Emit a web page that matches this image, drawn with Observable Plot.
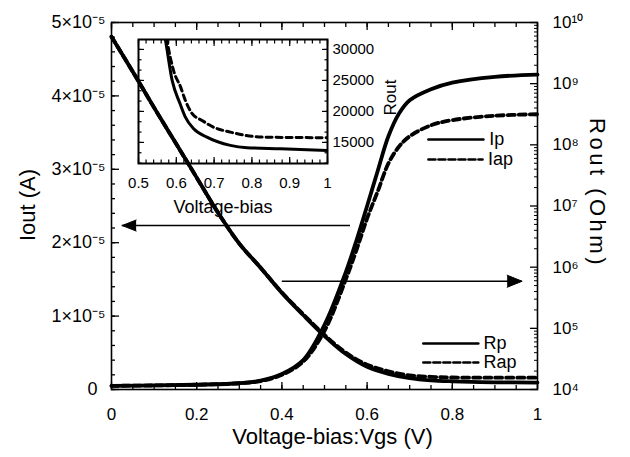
<!DOCTYPE html>
<html><head><meta charset="utf-8">
<script src="https://cdn.jsdelivr.net/npm/d3@7"></script>
<script src="https://cdn.jsdelivr.net/npm/@observablehq/plot@0.6"></script>
<style>
body{margin:0;background:#fff;}
#wrap{position:relative;width:630px;height:457px;overflow:hidden;}
#wrap svg{position:absolute;}
</style></head><body><div id="wrap"></div>
<script>
// ---------- data ----------
// Output current vs gate voltage (left, linear axis)
const vgsI   = [0, 0.1, 0.2, 0.3, 0.35, 0.4, 0.45, 0.5, 0.55, 0.575, 0.6, 0.625, 0.65, 0.675, 0.7, 0.75, 0.8, 0.9, 1.0];
const ioutP  = [0.5e-6, 0.55e-6, 0.65e-6, 0.85e-6, 1.2e-6, 2.1e-6, 4.0e-6, 8.8e-6, 1.6e-5, 2.03e-5, 2.5e-5, 2.98e-5, 3.45e-5, 3.76e-5, 3.94e-5, 4.09e-5, 4.18e-5, 4.26e-5, 4.29e-5];
const ioutAP = [0.5e-6, 0.55e-6, 0.65e-6, 0.85e-6, 1.15e-6, 2.0e-6, 3.8e-6, 8.0e-6, 1.5e-5, 1.9e-5, 2.33e-5, 2.7e-5, 3.08e-5, 3.31e-5, 3.45e-5, 3.6e-5, 3.67e-5, 3.73e-5, 3.75e-5];
// Output resistance vs gate voltage (right, log axis)
const vgsR   = [0, 0.05, 0.1, 0.15, 0.2, 0.25, 0.3, 0.35, 0.4, 0.45, 0.5, 0.55, 0.6, 0.65, 0.7, 0.75, 0.8, 0.9, 1.0];
const routP  = [5.86e9, 1.57e9, 4.06e8, 1.09e8, 2.91e7, 7.8e6, 2.43e6, 9.8e5, 3.8e5, 1.65e5, 7.5e4, 3.8e4, 2.35e4, 1.8e4, 1.53e4, 1.41e4, 1.36e4, 1.31e4, 1.3e4];
const routAP = [5.86e9, 1.57e9, 4.06e8, 1.09e8, 2.91e7, 7.8e6, 2.43e6, 9.8e5, 3.85e5, 1.7e5, 7.8e4, 4.0e4, 2.55e4, 1.98e4, 1.7e4, 1.61e4, 1.57e4, 1.56e4, 1.56e4];
// Inset: Rout (linear) vs Voltage-bias
const insetVP  = [0.565, 0.571, 0.589, 0.61, 0.624, 0.646, 0.681, 0.743, 0.787, 0.876, 1.0];
const insetRp  = [33500, 31600, 25000, 21240, 19080, 17200, 15850, 14520, 14150, 13980, 13700];
const insetVAP = [0.57, 0.575, 0.594, 0.611, 0.624, 0.642, 0.668, 0.698, 0.743, 0.83, 1.0];
const insetRap = [33500, 31600, 26340, 24000, 21770, 19630, 18550, 17470, 16660, 15850, 15760];

// tick values / labels
const xMajor = [0, 0.2, 0.4, 0.6, 0.8, 1];
const xMinor = d3.range(0, 1.0001, 0.05);
const iMajor = [0, 1e-5, 2e-5, 3e-5, 4e-5, 5e-5];
const iMinor = d3.range(0, 5.0001e-5, 0.2e-5);
const rDecades = [4, 5, 6, 7, 8, 9, 10];
const insetXTicks = [0.5, 0.6, 0.7, 0.8, 0.9, 1];
const insetYTicks = [15000, 20000, 25000, 30000];

// annotations
const legendNames = ["Ip", "Iap", "Rp", "Rap"];
const legendY = [3.406e-5, 3.134e-5, 0.627e-5, 0.368e-5];
const legendX0 = [0.744, 0.744, 0.732, 0.732];
const legendX1 = [0.873, 0.871, 0.861, 0.861];
const legendTextX = [0.887, 0.884, 0.873, 0.873];
const legendDash = [false, true, false, true];
const arrowLeft = {x1: 0.561, x2: 0.025, y: 2.234e-5};
const arrowRight = {x1: 0.401, x2: 0.964, y: 1.475e-5};

// ---------- helpers ----------
const supMap = {"0":"⁰","1":"¹","2":"²","3":"³","4":"⁴","5":"⁵","6":"⁶","7":"⁷","8":"⁸","9":"⁹","-":"⁻"};
const sup = s => [...String(s)].map(c => supMap[c]).join("");
const toY = r => (Math.log10(r) - 4) / 6 * 5e-5;       // log Rout -> left-axis units
const decY = n => (n - 4) / 6 * 5e-5;
const rMinor = [];
for (let n = 4; n < 10; n++) for (let m = 2; m <= 9; m++) rMinor.push(decY(n + Math.log10(m)));
const pts = (xs, ys, f = d => d) => xs.map((x, i) => ({x, y: f(ys[i])}));

const FONT = "Liberation Sans, Arial, Helvetica, sans-serif";
const DASH = "7,4";
const CURVE = "catmull-rom";

// inward ticks: tick drawn outward from a point moved inside the frame by the tick length
function inTicksX(values, anchor, size, sw = 1.3) {
  const o = {anchor, tickSize: size, tickFormat: () => "", label: null, strokeWidth: sw};
  if (anchor === "bottom") o.insetBottom = size; else o.insetTop = size;
  return Plot.axisX(values, o);
}
function inTicksY(values, anchor, size, sw = 1.3) {
  const o = {anchor, tickSize: size, tickFormat: () => "", label: null, strokeWidth: sw};
  if (anchor === "left") o.insetLeft = size; else o.insetRight = size;
  return Plot.axisY(values, o);
}

const legendSegs = [];
legendNames.forEach((n, i) => {
  legendSegs.push({name: n, x: legendX0[i], y: legendY[i]});
  legendSegs.push({name: n, x: legendX1[i], y: legendY[i]});
});

const main = Plot.plot({
  width: 630, height: 457,
  marginLeft: 111, marginRight: 93, marginTop: 22, marginBottom: 68,
  x: {domain: [0, 1]},
  y: {domain: [0, 5e-5]},
  style: {fontFamily: FONT, fontSize: "18px", color: "black", background: "transparent"},
  marks: [
    // curves
    Plot.line(pts(vgsI, ioutP), {x: "x", y: "y", stroke: "black", strokeWidth: 3.8, curve: CURVE}),
    Plot.line(pts(vgsI, ioutAP), {x: "x", y: "y", stroke: "black", strokeWidth: 3.8, strokeDasharray: DASH, curve: CURVE}),
    Plot.line(pts(vgsR, routAP, toY), {x: "x", y: "y", stroke: "black", strokeWidth: 3.8, strokeDasharray: DASH, curve: CURVE}),
    Plot.line(pts(vgsR, routP, toY), {x: "x", y: "y", stroke: "black", strokeWidth: 3.8, curve: CURVE}),
    // legend
    ...legendNames.map((n, i) => Plot.line(legendSegs.filter(d => d.name === n), {x: "x", y: "y", stroke: "black", strokeWidth: 2.6, strokeDasharray: legendDash[i] ? "7,3" : null})),
    Plot.text(legendNames.map((n, i) => ({n, x: legendTextX[i], y: legendY[i]})), {x: "x", y: "y", text: "n", textAnchor: "start", lineAnchor: "middle", fontSize: 18, fill: "black"}),
    // arrows
    Plot.ruleY([arrowLeft], {x1: "x1", x2: "x2", y: "y", stroke: "black", strokeWidth: 1.6}),
    Plot.ruleY([arrowRight], {x1: "x1", x2: "x2", y: "y", stroke: "black", strokeWidth: 1.6}),
    Plot.vector([arrowLeft], {x: "x2", y: "y", rotate: -90, length: 14, r: 5.5, shape: "spike", anchor: "end", fill: "black", fillOpacity: 1, stroke: "black", strokeWidth: 1}),
    Plot.vector([arrowRight], {x: "x2", y: "y", rotate: 90, length: 15, r: 6, shape: "spike", anchor: "end", fill: "black", fillOpacity: 1, stroke: "black", strokeWidth: 1}),
    // frame
    Plot.frame({stroke: "black", strokeWidth: 1.6}),
    // left axis
    Plot.axisY(iMajor.filter(d => d > 0), {anchor: "left", tickSize: 0, tickPadding: 6, fontSize: 18, label: null,
      tickFormat: d => `${Math.round(d / 1e-5)}×10${sup(-5)}`}),
    Plot.axisY([0], {anchor: "left", tickSize: 0, tickPadding: 14, fontSize: 18, label: null, tickFormat: () => "0"}),
    inTicksY(iMajor, "left", 8),
    inTicksY(iMinor, "left", 4),
    // right axis (log Rout)
    Plot.axisY(rDecades.map(decY), {anchor: "right", tickSize: 0, tickPadding: 15, fontSize: 17, label: null,
      tickFormat: d => "10" + sup(Math.round(d / 5e-5 * 6 + 4))}),
    inTicksY(rDecades.map(decY), "right", 8),
    inTicksY(rMinor, "right", 4, 1),
    // bottom / top axes
    Plot.axisX(xMajor, {anchor: "bottom", tickSize: 0, tickPadding: 18, fontSize: 17, label: null, tickFormat: d => String(d)}),
    inTicksX(xMajor, "bottom", 7),
    inTicksX(xMinor, "bottom", 4),
    inTicksX(xMajor, "top", 7),
    inTicksX(xMinor, "top", 4),
    // axis titles
    Plot.text(["Voltage-bias:Vgs (V)"], {text: d => d, frameAnchor: "bottom", textAnchor: "middle", lineAnchor: "middle", dy: 47, dx: 8, fontSize: 22, fill: "black"}),
    Plot.text(["Iout (A)"], {text: d => d, frameAnchor: "left", textAnchor: "middle", lineAnchor: "middle", dx: -84, dy: -1, rotate: -90, fontSize: 22, fill: "black"}),
    Plot.text(["Rout (Ohm)"], {text: d => d, frameAnchor: "right", textAnchor: "middle", lineAnchor: "middle", dx: 60, dy: -13, rotate: 90, fontSize: 22, fill: "black"})
  ]
});
main.style.left = "0px"; main.style.top = "0px";
main.querySelectorAll("text").forEach(t => { if (t.textContent === "Rout (Ohm)") t.style.letterSpacing = "3.5px"; });
document.getElementById("wrap").appendChild(main);

// ---------- inset ----------
const insetXMinor = d3.range(0.5, 1.0001, 0.02);
const insetYMinor = d3.range(15000 - 2 * 5000 / 3, 31600, 5000 / 3);
const inset = Plot.plot({
  width: 320, height: 200,
  marginLeft: 38, marginTop: 19, marginRight: 93, marginBottom: 57,
  x: {domain: [0.5, 1]},
  y: {domain: [11600, 31600]},
  style: {fontFamily: FONT, fontSize: "15px", color: "black", background: "transparent"},
  marks: [
    Plot.line(pts(insetVAP, insetRap), {x: "x", y: "y", stroke: "black", strokeWidth: 3, strokeDasharray: "6,4", curve: "monotone-x", clip: true}),
    Plot.line(pts(insetVP, insetRp), {x: "x", y: "y", stroke: "black", strokeWidth: 3, curve: "monotone-x", clip: true}),
    Plot.frame({stroke: "black", strokeWidth: 2}),
    Plot.axisX(insetXTicks, {anchor: "bottom", tickSize: 0, tickPadding: 14, fontSize: 15, label: null, tickFormat: d => d === 1 ? "1" : d.toFixed(1)}),
    inTicksX(insetXTicks, "bottom", 6, 1.2),
    inTicksX(insetXMinor, "bottom", 3.5, 1.2),
    inTicksX(insetXTicks, "top", 6, 1.2),
    inTicksX(insetXMinor, "top", 3.5, 1.2),
    Plot.axisY(insetYTicks, {anchor: "right", tickSize: 0, tickPadding: 5, fontSize: 15, label: null, tickFormat: d => String(d)}),
    inTicksY(insetYTicks, "right", 6, 1.2),
    inTicksY(insetYMinor, "right", 3.5, 1.2),
    inTicksY(insetYTicks, "left", 6, 1.2),
    inTicksY(insetYMinor, "left", 3.5, 1.2),
    Plot.text(["Voltage-bias"], {text: d => d, frameAnchor: "bottom", textAnchor: "middle", lineAnchor: "middle", dy: 44, dx: -10, fontSize: 18, fill: "black"}),
    Plot.text(["Rout"], {text: d => d, frameAnchor: "right", textAnchor: "middle", lineAnchor: "middle", dx: 63, dy: -4, rotate: -90, fontSize: 17, fill: "black"})
  ]
});
inset.style.left = "100px"; inset.style.top = "20px";
document.getElementById("wrap").appendChild(inset);
</script>
</body></html>
